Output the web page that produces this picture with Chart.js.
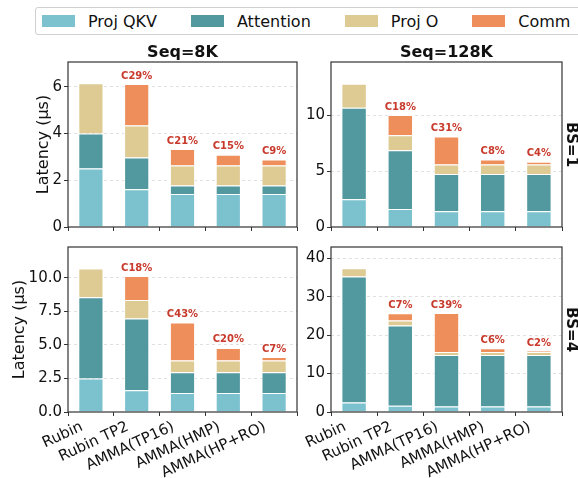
<!DOCTYPE html>
<html>
<head>
<meta charset="utf-8">
<script src="https://cdn.jsdelivr.net/npm/chart.js@4.4.0/dist/chart.umd.min.js"></script>
<style>
  body { margin: 0; background: #fff; width: 578px; height: 478px; position: relative; overflow: hidden;
         font-family: "DejaVu Sans", sans-serif; }
  canvas { position: absolute; left: 0; top: 0; }
  #legend { position: absolute; left: 35px; top: 7px; width: 560px; height: 28px; border: 1px solid #d0d0d0;
            border-radius: 3px; display: flex; align-items: center; padding-left: 6px; box-sizing: border-box; }
  #legend .item { display: flex; align-items: center; margin-right: 34px; font-size: 16px; color: #111;
                  white-space: nowrap; flex: none; }
  #legend .sw { width: 33px; height: 12px; margin-right: 13px; }
</style>
</head>
<body>
<div id="legend"></div>
<canvas id="p0" width="578" height="478"></canvas>
<canvas id="p1" width="578" height="478"></canvas>
<canvas id="p2" width="578" height="478"></canvas>
<canvas id="p3" width="578" height="478"></canvas>
<script>
// ---- data ----
var categories = ["Rubin", "Rubin TP2", "AMMA(TP16)", "AMMA(HMP)", "AMMA(HP+RO)"];
var seriesNames = ["Proj QKV", "Attention", "Proj O", "Comm"];
var seriesColors = ["#7cc2ce", "#52989f", "#ddcb93", "#ee8f5b"];

// Seq=8K, BS=1
var qkv8kBs1  = [2.5, 1.62, 1.41, 1.41, 1.41];
var attn8kBs1 = [1.5, 1.35, 0.37, 0.37, 0.37];
var projO8kBs1 = [2.15, 1.37, 0.85, 0.85, 0.85];
var comm8kBs1 = [0, 1.78, 0.71, 0.46, 0.26];
var commLabels8kBs1 = ["", "C29%", "C21%", "C15%", "C9%"];

// Seq=128K, BS=1
var qkv128kBs1  = [2.5, 1.62, 1.41, 1.41, 1.41];
var attn128kBs1 = [8.2, 5.26, 3.34, 3.34, 3.34];
var projO128kBs1 = [2.15, 1.34, 0.85, 0.85, 0.85];
var comm128kBs1 = [0, 1.83, 2.52, 0.46, 0.26];
var commLabels128kBs1 = ["", "C18%", "C31%", "C8%", "C4%"];

// Seq=8K, BS=4
var qkv8kBs4  = [2.5, 1.62, 1.41, 1.41, 1.41];
var attn8kBs4 = [6.05, 5.35, 1.55, 1.55, 1.55];
var projO8kBs4 = [2.15, 1.38, 0.87, 0.87, 0.87];
var comm8kBs4 = [0, 1.78, 2.85, 0.95, 0.27];
var commLabels8kBs4 = ["", "C18%", "C43%", "C20%", "C7%"];

// Seq=128K, BS=4
var qkv128kBs4  = [2.5, 1.62, 1.41, 1.41, 1.41];
var attn128kBs4 = [32.7, 20.9, 13.4, 13.4, 13.4];
var projO128kBs4 = [2.15, 1.3, 0.8, 0.8, 0.8];
var comm128kBs4 = [0, 1.83, 10.1, 0.95, 0.27];
var commLabels128kBs4 = ["", "C7%", "C39%", "C6%", "C2%"];

// y axis ticks / limits
var yTicks8kBs1 = [0, 2, 4, 6];         var yMax8kBs1 = 7.06;
var yTicks128kBs1 = [0, 5, 10];         var yMax128kBs1 = 14.8;
var yTicks8kBs4 = [0, 2.5, 5, 7.5, 10]; var yMax8kBs4 = 12.3;
var yTicks128kBs4 = [0, 10, 20, 30, 40]; var yMax128kBs4 = 42.9;

Chart.defaults.font.family = "'DejaVu Sans', sans-serif";
Chart.defaults.color = "#111";

// legend (html)
var leg = document.getElementById('legend');
seriesNames.forEach(function (name, i) {
  var it = document.createElement('div');
  it.className = 'item';
  it.innerHTML = '<span class="sw" style="background:' + seriesColors[i] + '"></span>' + name;
  leg.appendChild(it);
});

// titles, side labels, frame and comm% annotations
var decorPlugin = {
  id: 'decor',
  afterDatasetsDraw: function (chart) {
    var o = chart.options.plugins.decor;
    var ctx = chart.ctx, a = chart.chartArea;
    var xs = chart.scales.x, ys = chart.scales.y;
    ctx.save();
    // comm % labels
    ctx.fillStyle = '#c83a2c';
    ctx.font = "bold 10px 'DejaVu Sans'";
    ctx.textAlign = 'center';
    ctx.textBaseline = 'bottom';
    o.labels.forEach(function (txt, i) {
      if (!txt) return;
      var total = 0;
      chart.data.datasets.forEach(function (ds) { total += ds.data[i]; });
      ctx.fillText(txt, xs.getPixelForValue(i), ys.getPixelForValue(total) - 3);
    });
    // frame
    ctx.strokeStyle = '#333';
    ctx.lineWidth = 1.2;
    ctx.strokeRect(a.left, a.top, a.right - a.left, a.bottom - a.top);
    ctx.fillStyle = '#111';
    if (o.title) {
      ctx.font = "bold 16px 'DejaVu Sans'";
      ctx.textAlign = 'center';
      ctx.textBaseline = 'alphabetic';
      ctx.fillText(o.title, (a.left + a.right) / 2, a.top - 5);
    }
    if (o.yLabel) {
      ctx.save();
      ctx.translate(a.left - o.yLabelOffset, (a.top + a.bottom) / 2);
      ctx.rotate(-Math.PI / 2);
      ctx.font = "16px 'DejaVu Sans'";
      ctx.textAlign = 'center';
      ctx.textBaseline = 'middle';
      ctx.fillText(o.yLabel, 0, 0);
      ctx.restore();
    }
    if (o.rightLabel) {
      ctx.save();
      ctx.translate(a.right + 9, (a.top + a.bottom) / 2);
      ctx.rotate(Math.PI / 2);
      ctx.font = "bold 15px 'DejaVu Sans'";
      ctx.textAlign = 'center';
      ctx.textBaseline = 'middle';
      ctx.fillText(o.rightLabel, 0, 0);
      ctx.restore();
    }
    ctx.restore();
  }
};

var Y_AXIS_W = 60;

function makePanel(id, area, values, labels, yTicks, yMax, decimals, showX, decor) {
  var datasets = seriesNames.map(function (name, i) {
    return {
      label: name,
      data: values[i],
      backgroundColor: seriesColors[i],
      borderColor: '#ffffff',
      borderWidth: 1,
      borderSkipped: 'bottom',
      barPercentage: 0.55,
      categoryPercentage: 1.0
    };
  });
  decor.labels = labels;
  var xAxisH = showX ? 478 - area[3] : 6;
  return new Chart(document.getElementById(id), {
    type: 'bar',
    data: { labels: categories, datasets: datasets },
    plugins: [decorPlugin],
    options: {
      responsive: false,
      animation: false,
      devicePixelRatio: 1,
      layout: { padding: { left: area[0] - Y_AXIS_W, top: area[1], right: 578 - area[2],
                           bottom: 478 - area[3] - xAxisH } },
      plugins: { legend: { display: false }, tooltip: { enabled: false }, decor: decor },
      scales: {
        x: {
          stacked: true,
          afterFit: function (s) { s.height = xAxisH; },
          grid: { display: true, drawOnChartArea: false, drawTicks: true, tickLength: 4, tickColor: '#333', tickWidth: 1 },
          border: { display: false },
          ticks: { display: showX, maxRotation: 25, minRotation: 25, autoSkip: false, padding: 2,
                   labelOffset: -9, font: { size: 15 }, color: '#111' }
        },
        y: {
          stacked: true,
          min: 0,
          max: yMax,
          afterFit: function (s) { s.width = Y_AXIS_W; },
          afterBuildTicks: function (s) { s.ticks = yTicks.map(function (v) { return { value: v }; }); },
          grid: { color: function (c) { return c.tick && c.tick.value === 0 ? 'rgba(0,0,0,0)' : '#d8d8d8'; },
                  lineWidth: 0.8, drawTicks: true, tickLength: 4, tickColor: '#333', tickWidth: 1 },
          border: { display: false, dash: [3, 3] },
          ticks: { padding: 2, font: { size: 15 }, color: '#111',
                   callback: function (v) { return Number(v).toFixed(decimals); } }
        }
      }
    }
  });
}

makePanel('p0', [68, 62, 297, 227], [qkv8kBs1, attn8kBs1, projO8kBs1, comm8kBs1], commLabels8kBs1,
          yTicks8kBs1, yMax8kBs1, 0, false, { title: 'Seq=8K', yLabel: 'Latency (μs)', yLabelOffset: 24 });
makePanel('p1', [331, 62, 562, 227], [qkv128kBs1, attn128kBs1, projO128kBs1, comm128kBs1], commLabels128kBs1,
          yTicks128kBs1, yMax128kBs1, 0, false, { title: 'Seq=128K', rightLabel: 'BS=1' });
makePanel('p2', [68, 247, 297, 412], [qkv8kBs4, attn8kBs4, projO8kBs4, comm8kBs4], commLabels8kBs4,
          yTicks8kBs4, yMax8kBs4, 1, true, { yLabel: 'Latency (μs)', yLabelOffset: 48 });
makePanel('p3', [331, 247, 562, 412], [qkv128kBs4, attn128kBs4, projO128kBs4, comm128kBs4], commLabels128kBs4,
          yTicks128kBs4, yMax128kBs4, 0, true, { rightLabel: 'BS=4' });
</script>
</body>
</html>
